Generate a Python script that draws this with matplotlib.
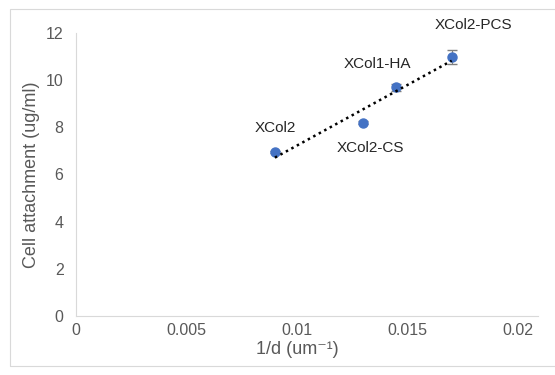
import numpy as np
import matplotlib
matplotlib.use("Agg")
from matplotlib import pyplot as plt
from matplotlib.patches import Rectangle

# data
samples = ["XCol2", "XCol2-CS", "XCol1-HA", "XCol2-PCS"]
inv_d = [0.009, 0.013, 0.0145, 0.017]
attachment = [6.95, 8.2, 9.7, 11.0]
attachment_err = [0.05, 0.05, 0.15, 0.3]
xticks = [0, 0.005, 0.01, 0.015, 0.02]
xtick_labels = ["0", "0.005", "0.01", "0.015", "0.02"]
yticks = [0, 2, 4, 6, 8, 10, 12]

plt.rcParams['font.family'] = ['Liberation Sans', 'DejaVu Sans']

fig = plt.figure(figsize=(5.55, 3.75), dpi=100)
ax = fig.add_axes([76 / 555, 1 - 316 / 375, (518 - 76) / 555, (316 - 33) / 375])

# outer chart frame
fig.patches.append(Rectangle((10 / 555, 9 / 375), 1.2, 1 - 18 / 375, transform=fig.transFigure,
                             fill=False, edgecolor='#d9d9d9', linewidth=0.8))

ax.errorbar(inv_d, attachment, yerr=attachment_err, fmt='o', color='#4472c4',
            markersize=6.5, ecolor='#7f7f7f', elinewidth=0.8, capsize=3.5, zorder=3)

# linear trendline
k, b = np.polyfit(inv_d, attachment, 1)
xs = np.array([min(inv_d), max(inv_d)])
ax.plot(xs, k * xs + b, color='black', linestyle=(0, (1, 1.5)), linewidth=1.8, zorder=4)

offsets = {"XCol2": (0, 17), "XCol2-CS": (5, -18), "XCol1-HA": (-14, 17), "XCol2-PCS": (16, 23)}
for name, x, y in zip(samples, inv_d, attachment):
    ax.annotate(name, (x, y), xytext=offsets[name], textcoords='offset points',
                ha='center', va='center', fontsize=11, color='#262626')

ax.set_xlim(0, 0.02)
ax.set_ylim(0, 12)
ax.set_xticks(xticks)
ax.set_xticklabels(xtick_labels)
ax.set_yticks(yticks)
ax.tick_params(axis='both', length=0, labelsize=11.5, labelcolor='#595959')
ax.tick_params(axis='y', pad=9)
ax.tick_params(axis='x', pad=5)
for side in ['top', 'right']:
    ax.spines[side].set_visible(False)
for side in ['left', 'bottom']:
    ax.spines[side].set_color('#d9d9d9')
ax.spines['bottom'].set_bounds(0, 0.0209)
ax.set_xlabel('1/d (um\u207b\u00b9)', fontsize=13, color='#595959', labelpad=2)
ax.set_ylabel('Cell attachment (ug/ml)', fontsize=13, color='#595959', labelpad=4)

fig.savefig('out.png', dpi=100)
